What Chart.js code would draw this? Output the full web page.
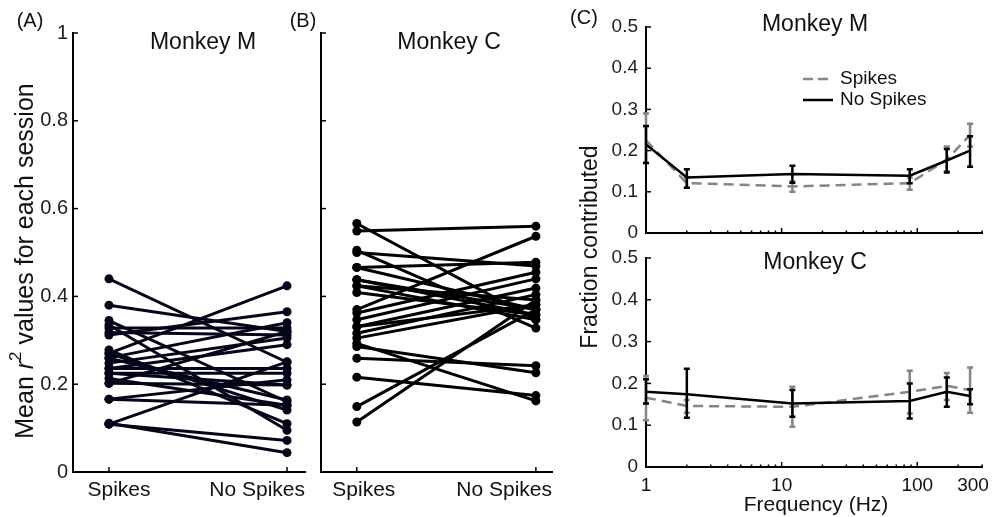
<!DOCTYPE html>
<html>
<head>
<meta charset="utf-8">
<script src="https://cdn.jsdelivr.net/npm/chart.js@4.4.1/dist/chart.umd.min.js"></script>
<style>
body { margin: 0; background: #fff; }
#wrap { position: relative; width: 997px; height: 517px; overflow: hidden; background: #fff; }
canvas { position: absolute; }
</style>
</head>
<body>
<div id="wrap">
  <canvas id="panelA" style="left:0;top:0" width="315" height="517"></canvas>
  <canvas id="panelB" style="left:315px;top:0" width="250" height="517"></canvas>
  <canvas id="panelCTop" style="left:565px;top:0" width="432" height="517"></canvas>
  <canvas id="panelCBottom" style="left:565px;top:0" width="432" height="517"></canvas>
</div>
<script>
// 条件ラベル
const conditionLabels = ['Spikes', 'No Spikes'];

// (A) Monkey M：セッションごとの平均 r^2（同じ添字どうしが1本の線）
const monkeyMSpikes   = [0.44, 0.38, 0.345, 0.328, 0.318, 0.312, 0.335, 0.278, 0.27, 0.26, 0.248, 0.236, 0.236, 0.225, 0.213, 0.202, 0.202, 0.166, 0.166, 0.109, 0.109, 0.111, 0.27, 0.259, 0.225];
const monkeyMNoSpikes = [0.25, 0.32, 0.16, 0.328, 0.312, 0.365, 0.095, 0.11, 0.424, 0.34, 0.305, 0.29, 0.236, 0.225, 0.152, 0.198, 0.32, 0.152, 0.21, 0.251, 0.072, 0.044, 0.141, 0.164, 0.198];

// (B) Monkey C
const monkeyCSpikes   = [0.549, 0.566, 0.505, 0.5, 0.466, 0.466, 0.438, 0.424, 0.409, 0.37, 0.362, 0.347, 0.331, 0.316, 0.305, 0.293, 0.259, 0.286, 0.216, 0.149, 0.114, 0.424, 0.438, 0.331];
const monkeyCNoSpikes = [0.56, 0.347, 0.328, 0.469, 0.478, 0.37, 0.37, 0.392, 0.358, 0.537, 0.455, 0.44, 0.419, 0.404, 0.381, 0.162, 0.242, 0.226, 0.174, 0.37, 0.392, 0.347, 0.358, 0.381];

// (C) 周波数帯ごとの寄与率
const freqHz = [1, 2, 12, 88, 165, 245];
const freqTickValues = [1, 10, 100, 300];
const freqMinorTicks = [2, 3, 4, 5, 6, 7, 8, 9, 20, 30, 40, 50, 60, 70, 80, 90, 200, 300];

const cTopNoSpikes     = [0.215, 0.135, 0.143, 0.139, 0.176, 0.2];
const cTopNoSpikesLow  = [0.17, 0.11, 0.122, 0.121, 0.147, 0.161];
const cTopNoSpikesHigh = [0.26, 0.155, 0.163, 0.155, 0.204, 0.235];
const cTopSpikes       = [0.225, 0.121, 0.113, 0.121, 0.178, 0.238];
const cTopSpikesLow    = [0.17, 0.11, 0.1, 0.105, 0.15, 0.21];
const cTopSpikesHigh   = [0.29, 0.135, 0.125, 0.135, 0.21, 0.265];

const cBotNoSpikes     = [0.18, 0.174, 0.152, 0.158, 0.18, 0.17];
const cBotNoSpikesLow  = [0.152, 0.118, 0.12, 0.116, 0.144, 0.15];
const cBotNoSpikesHigh = [0.21, 0.235, 0.184, 0.2, 0.214, 0.186];
const cBotSpikes       = [0.166, 0.146, 0.144, 0.18, 0.194, 0.184];
const cBotSpikesLow    = [0.112, 0.13, 0.096, 0.128, 0.16, 0.13];
const cBotSpikesHigh   = [0.218, 0.16, 0.192, 0.23, 0.225, 0.238];

const FONT = "'Liberation Sans', Arial, Helvetica, sans-serif";
const GRAY = '#858585';
Chart.defaults.font.family = FONT;
Chart.defaults.color = '#111';

// 内向きの目盛りと文字を描くプラグイン
const decoPlugin = {
    id: 'deco',
    afterDraw(chart, args, opts) {
        const ctx = chart.ctx;
        const area = chart.chartArea;
        const xs = chart.scales.x;
        const ys = chart.scales.y;
        ctx.save();
        ctx.strokeStyle = '#000';
        ctx.lineWidth = 1.5;
        ys.ticks.forEach(t => {
            const py = ys.getPixelForValue(t.value);
            ctx.beginPath();
            ctx.moveTo(area.left, py);
            ctx.lineTo(area.left + opts.tickLen, py);
            ctx.stroke();
        });
        (opts.xMajor || []).forEach(v => {
            const px = xs.getPixelForValue(v);
            ctx.beginPath();
            ctx.moveTo(px, area.bottom);
            ctx.lineTo(px, area.bottom - opts.tickLen);
            ctx.stroke();
        });
        (opts.xMinor || []).forEach(v => {
            const px = xs.getPixelForValue(v);
            ctx.beginPath();
            ctx.moveTo(px, area.bottom);
            ctx.lineTo(px, area.bottom - opts.tickLen / 2);
            ctx.stroke();
        });
        (opts.lines || []).forEach(l => {
            ctx.strokeStyle = l.color;
            ctx.lineWidth = l.width;
            ctx.setLineDash(l.dash || []);
            ctx.beginPath();
            ctx.moveTo(l.x1, l.y);
            ctx.lineTo(l.x2, l.y);
            ctx.stroke();
        });
        ctx.setLineDash([]);
        ctx.fillStyle = '#111';
        (opts.texts || []).forEach(t => {
            const x = typeof t.x === 'function' ? t.x(chart) : t.x;
            ctx.font = t.size + 'px ' + FONT;
            ctx.textAlign = t.align || 'center';
            ctx.textBaseline = 'middle';
            if (t.rotate) {
                ctx.save();
                ctx.translate(x, t.y);
                ctx.rotate(-Math.PI / 2);
                ctx.fillText(t.text, 0, 0);
                ctx.restore();
            } else {
                ctx.fillText(t.text, x, t.y);
            }
        });
        // r^2 を含む縦軸タイトル
        if (opts.r2Title) {
            const tt = opts.r2Title;
            const parts = [
                {s: 'Mean ', f: tt.size + 'px ' + FONT, dy: 0},
                {s: 'r', f: 'italic ' + tt.size + 'px ' + FONT, dy: 0},
                {s: '2', f: Math.round(tt.size * 0.68) + 'px ' + FONT, dy: -tt.size * 0.38},
                {s: ' values for each session', f: tt.size + 'px ' + FONT, dy: 0}
            ];
            let total = 0;
            parts.forEach(p => { ctx.font = p.f; p.w = ctx.measureText(p.s).width; total += p.w; });
            ctx.save();
            ctx.translate(tt.x, tt.y);
            ctx.rotate(-Math.PI / 2);
            ctx.textAlign = 'left';
            ctx.textBaseline = 'middle';
            let cx = -total / 2;
            parts.forEach(p => {
                ctx.font = p.f;
                ctx.fillText(p.s, cx, p.dy);
                cx += p.w;
            });
            ctx.restore();
        }
        ctx.restore();
    }
};

// エラーバー
const errorBarPlugin = {
    id: 'errorBars',
    afterDatasetDraw(chart, args) {
        const ds = chart.data.datasets[args.index];
        if (!ds.errLow) return;
        const ctx = chart.ctx;
        const xs = chart.scales.x;
        const ys = chart.scales.y;
        ctx.save();
        ctx.strokeStyle = ds.borderColor;
        ctx.lineWidth = 2.5;
        ctx.setLineDash([]);
        ds.data.forEach((p, i) => {
            const px = xs.getPixelForValue(p.x);
            const lo = ys.getPixelForValue(ds.errLow[i]);
            const hi = ys.getPixelForValue(ds.errHigh[i]);
            ctx.beginPath();
            ctx.moveTo(px, lo); ctx.lineTo(px, hi);
            ctx.moveTo(px - 3, lo); ctx.lineTo(px + 3, lo);
            ctx.moveTo(px - 3, hi); ctx.lineTo(px + 3, hi);
            ctx.stroke();
        });
        ctx.restore();
    }
};

// ペアの線データセットを作成
function createPairDataset(spikes, noSpikes, color) {
    const dataset = [];
    for (let i = 0; i < spikes.length; i++) {
        dataset.push({
            data: [{x: 1, y: spikes[i]}, {x: 2, y: noSpikes[i]}],
            showLine: true,
            borderColor: color,
            borderWidth: 3,
            pointRadius: 4.5,
            pointBackgroundColor: color,
            pointBorderColor: color,
            pointBorderWidth: 0
        });
    }
    return dataset;
}

function pairScales(xMin, xMax, yWidth, showYLabels) {
    return {
        x: {
            type: 'linear', min: xMin, max: xMax,
            grid: {display: false, drawTicks: false},
            border: {display: true, color: '#000', width: 2},
            ticks: {display: false},
            afterFit: (s) => { s.height = 45; }
        },
        y: {
            type: 'linear', min: 0, max: 1,
            grid: {display: false, drawTicks: false},
            border: {display: true, color: '#000', width: 2},
            ticks: {
                display: showYLabels, stepSize: 0.2, padding: 5, color: '#222', font: {size: 20},
                callback: (v) => (v === 0 || v === 1) ? String(v) : v.toFixed(1)
            },
            afterFit: (s) => { s.width = yWidth; }
        }
    };
}

const baseOptions = {
    responsive: false,
    animation: false,
    events: [],
    plugins: {legend: {display: false}, tooltip: {enabled: false}}
};

// (A)
new Chart(document.getElementById('panelA').getContext('2d'), {
    type: 'scatter',
    data: {datasets: createPairDataset(monkeyMSpikes, monkeyMNoSpikes, '#05051a')},
    options: {
        ...baseOptions,
        layout: {padding: {left: 0, right: 10, top: 33, bottom: 0}},
        scales: pairScales(0.798, 2.101, 73, true),
        plugins: {
            ...baseOptions.plugins,
            deco: {
                tickLen: 5,
                xMajor: [1, 2],
                texts: [
                    {text: '(A)', x: 30, y: 21, size: 20},
                    {text: '(B)', x: 303, y: 21, size: 20},
                    {text: 'Monkey M', x: 203, y: 43, size: 23},
                    {text: conditionLabels[0], x: (c) => c.scales.x.getPixelForValue(1) + 10, y: 490, size: 21},
                    {text: conditionLabels[1], x: (c) => c.chartArea.right, y: 490, size: 21, align: 'right'}
                ],
                r2Title: {x: 26, y: 261, size: 25}
            }
        }
    },
    plugins: [decoPlugin]
});

// (B)
new Chart(document.getElementById('panelB').getContext('2d'), {
    type: 'scatter',
    data: {datasets: createPairDataset(monkeyCSpikes, monkeyCNoSpikes, '#000')},
    options: {
        ...baseOptions,
        layout: {padding: {left: 0, right: 13, top: 33, bottom: 0}},
        scales: pairScales(0.8, 2.09, 6, false),
        plugins: {
            ...baseOptions.plugins,
            deco: {
                tickLen: 5,
                xMajor: [1, 2],
                texts: [
                    {text: 'Monkey C', x: 134, y: 43, size: 23},
                    {text: conditionLabels[0], x: (c) => c.scales.x.getPixelForValue(1) + 7, y: 490, size: 21},
                    {text: conditionLabels[1], x: (c) => c.chartArea.right, y: 490, size: 21, align: 'right'}
                ]
            }
        }
    },
    plugins: [decoPlugin]
});

// (C) 周波数グラフ用
function freqDatasets(noSpikes, noLow, noHigh, spikes, spLow, spHigh) {
    return [
        {
            label: 'No Spikes',
            data: freqHz.map((f, i) => ({x: f, y: noSpikes[i]})),
            errLow: noLow, errHigh: noHigh,
            showLine: true, borderColor: '#000', borderWidth: 2.5, pointRadius: 0
        },
        {
            label: 'Spikes',
            data: freqHz.map((f, i) => ({x: f, y: spikes[i]})),
            errLow: spLow, errHigh: spHigh,
            showLine: true, borderColor: GRAY, borderWidth: 2.5, borderDash: [10, 6], pointRadius: 0
        }
    ];
}

function freqScales(xHeight) {
    return {
        x: {
            type: 'logarithmic', min: 1, max: 300,
            grid: {display: false, drawTicks: false},
            border: {display: true, color: '#000', width: 2},
            ticks: {display: false},
            afterBuildTicks: (s) => { s.ticks = freqTickValues.map(v => ({value: v})); },
            afterFit: (s) => { s.height = xHeight; }
        },
        y: {
            type: 'linear', min: 0, max: 0.5,
            grid: {display: false, drawTicks: false},
            border: {display: true, color: '#000', width: 2},
            ticks: {
                stepSize: 0.1, padding: 8, color: '#222', font: {size: 19},
                callback: (v) => v === 0 ? '0' : v.toFixed(1)
            },
            afterFit: (s) => { s.width = 81; }
        }
    };
}

new Chart(document.getElementById('panelCTop').getContext('2d'), {
    type: 'scatter',
    data: {datasets: freqDatasets(cTopNoSpikes, cTopNoSpikesLow, cTopNoSpikesHigh, cTopSpikes, cTopSpikesLow, cTopSpikesHigh)},
    options: {
        ...baseOptions,
        layout: {padding: {left: 0, right: 15, top: 27, bottom: 272}},
        scales: freqScales(12),
        plugins: {
            ...baseOptions.plugins,
            deco: {
                tickLen: 5,
                xMajor: [1, 10, 100],
                xMinor: freqMinorTicks,
                lines: [
                    {x1: 238, x2: 268, y: 79, color: GRAY, width: 2.5, dash: [10, 5]},
                    {x1: 238, x2: 268, y: 100, color: '#000', width: 2.5}
                ],
                texts: [
                    {text: '(C)', x: 19, y: 18, size: 20},
                    {text: 'Monkey M', x: 250, y: 25, size: 23},
                    {text: 'Spikes', x: 275, y: 79, size: 19, align: 'left'},
                    {text: 'No Spikes', x: 275, y: 100, size: 19, align: 'left'},
                    {text: 'Fraction contributed', x: 26, y: 247, size: 23, rotate: true}
                ]
            }
        }
    },
    plugins: [decoPlugin, errorBarPlugin]
});

new Chart(document.getElementById('panelCBottom').getContext('2d'), {
    type: 'scatter',
    data: {datasets: freqDatasets(cBotNoSpikes, cBotNoSpikesLow, cBotNoSpikesHigh, cBotSpikes, cBotSpikesLow, cBotSpikesHigh)},
    options: {
        ...baseOptions,
        layout: {padding: {left: 0, right: 15, top: 258, bottom: 0}},
        scales: freqScales(50),
        plugins: {
            ...baseOptions.plugins,
            deco: {
                tickLen: 5,
                xMajor: [1, 10, 100],
                xMinor: freqMinorTicks,
                texts: freqTickValues.map(v => ({
                    text: String(v),
                    x: (c) => Math.min(c.scales.x.getPixelForValue(v), c.width - 24),
                    y: 486, size: 19
                })).concat([
                    {text: 'Monkey C', x: 250, y: 263, size: 23},
                    {text: 'Frequency (Hz)', x: 251, y: 505, size: 21}
                ])
            }
        }
    },
    plugins: [decoPlugin, errorBarPlugin]
});
</script>
</body>
</html>
